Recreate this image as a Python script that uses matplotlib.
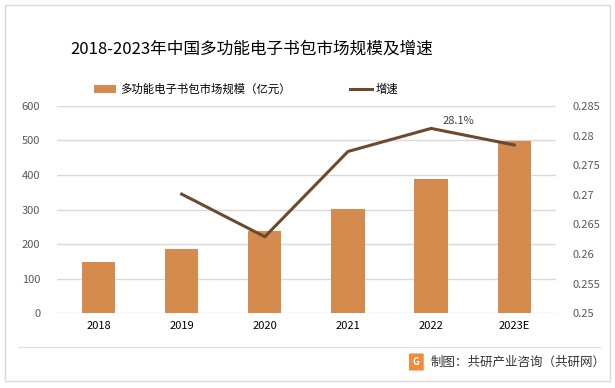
import matplotlib.pyplot as plt
from matplotlib.patches import Rectangle, FancyBboxPatch
import numpy as np

plt.rcParams['font.family'] = ['Noto Sans CJK SC', 'DejaVu Sans']

# 数据
years = ['2018', '2019', '2020', '2021', '2022', '2023E']
scale = [148, 186, 238, 301, 388, 497]          # 市场规模（亿元）
growth = [None, 0.2701, 0.2629, 0.2773, 0.2812, 0.2784]  # 增速
left_ticks = [0, 100, 200, 300, 400, 500, 600]
right_ticks = [0.25, 0.255, 0.26, 0.265, 0.27, 0.275, 0.28, 0.285]
right_labels = ['0.25', '0.255', '0.26', '0.265', '0.27', '0.275', '0.28', '0.285']

bar_color = '#D48B4D'
line_color = '#6B4A30'

fig = plt.figure(figsize=(6.15, 3.88), dpi=100)

# 外框
fig.patches.append(Rectangle((0.008, 0.018), 0.984, 0.969, transform=fig.transFigure,
                             fill=False, edgecolor='#D9D9D9', linewidth=1))

ax = fig.add_axes([0.0927, 0.193, 0.811, 0.534])
x = np.arange(len(years))
bars = ax.bar(x, scale, width=0.4, color=bar_color, zorder=2,
              label='多功能电子书包市场规模（亿元）')
ax.set_ylim(0, 600)
ax.set_yticks(left_ticks)
ax.set_xlim(-0.5, len(years) - 0.5)
ax.set_xticks(x)
ax.set_xticklabels(years, fontsize=8, color='#000000')
ax.tick_params(axis='y', labelsize=8, labelcolor='#595959', length=0, pad=12)
ax.tick_params(axis='x', length=0, pad=6)
ax.grid(axis='y', color='#D9D9D9', linewidth=1, zorder=0)
for s in ax.spines.values():
    s.set_visible(False)

ax2 = ax.twinx()
gx = [i for i, g in zip(x, growth) if g is not None]
gy = [g for g in growth if g is not None]
line, = ax2.plot(gx, gy, color=line_color, linewidth=2.2, label='增速', zorder=3)
ax2.set_ylim(0.25, 0.285)
ax2.set_yticks(right_ticks)
ax2.set_yticklabels(right_labels)
ax2.tick_params(axis='y', labelsize=8, labelcolor='#595959', length=0, pad=12)
for s in ax2.spines.values():
    s.set_visible(False)

# 数据标签
ax2.annotate('28.1%', (gx[3], gy[3]), xytext=(8, 2), textcoords='offset points',
             fontsize=8, color='#404040', va='bottom', ha='left')

# 标题
fig.text(0.409, 0.873, '2018-2023年中国多功能电子书包市场规模及增速',
         fontsize=12, ha='center', va='center', color='#000000')

# 图例
leg = fig.legend(handles=[bars, line], loc='center', bbox_to_anchor=(0.40, 0.77),
                 ncol=2, frameon=False, fontsize=8.2, handlelength=2.0,
                 handletextpad=0.3, columnspacing=5.2)

# 底部分隔线与来源
fig.add_artist(plt.Line2D([0.03, 0.975], [0.105, 0.105], transform=fig.transFigure,
                          color='#E0E0E0', linewidth=0.8))
fig.patches.append(FancyBboxPatch((0.667, 0.047), 0.02, 0.04, boxstyle='round,pad=0.002',
                                  transform=fig.transFigure, facecolor='#F08A3C',
                                  edgecolor='none'))
fig.text(0.677, 0.067, 'G', fontsize=7, color='white', ha='center', va='center',
         fontweight='bold')
fig.text(0.700, 0.067, '制图：共研产业咨询（共研网）', fontsize=9, ha='left',
         va='center', color='#333333')

fig.savefig('out.png', dpi=100)
